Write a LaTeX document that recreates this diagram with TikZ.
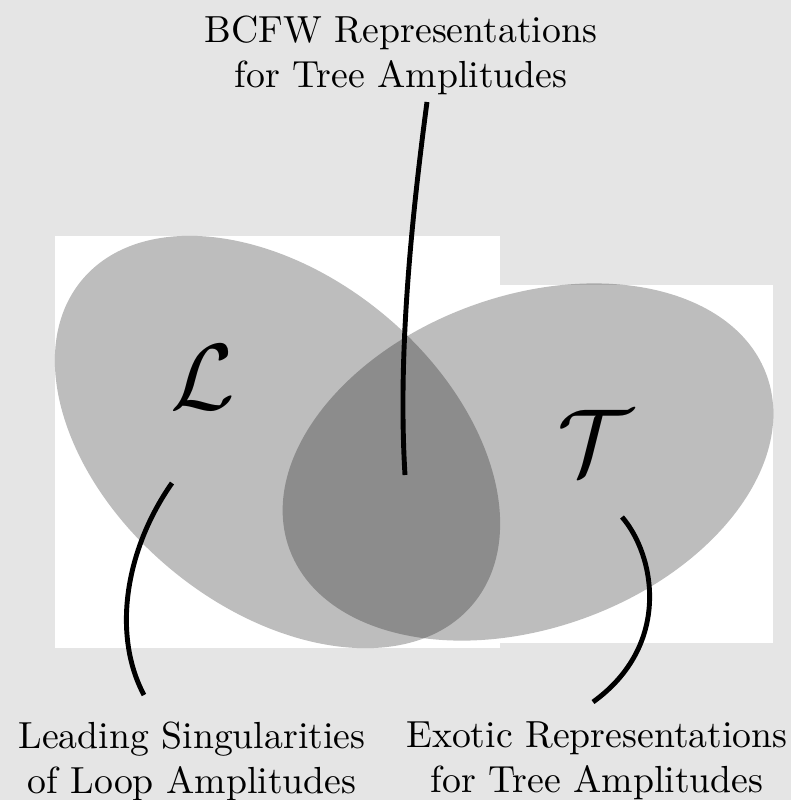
\documentclass[tikz,border=0pt]{standalone}
\usepackage{amsmath,amssymb}
\usepackage{xcolor}
\usepackage{tikz}
\usetikzlibrary{calc}
\definecolor{backgray}{HTML}{E5E5E5}

\begin{document}
\begin{tikzpicture}[x=0.265pt,y=-0.265pt,
    region/.style={fill=black,fill opacity=0.26},
    leader/.style={line width=1.3pt},
    caption/.style={align=center,font=\normalsize},
    letter/.style={font=\Huge}]
    \fill[backgray] (0,0) rectangle (791,800);
    \useasboundingbox (0,0) rectangle (791,800);
    \fill[white] (55,236) rectangle (500,648);
    \fill[white] (500,285) rectangle (773,643);

    % the two sets
    \fill[region,shift={(277.5,442)},rotate=-39.5] (0,0)
      ellipse [x radius=67.3pt,y radius=44pt];
    \fill[region,shift={(528,462)},rotate=20] (0,0)
      ellipse [x radius=67.3pt,y radius=44pt];
    \node[letter] (lset) at (203,377) {$\mathcal{L}$};
    \node[letter] (tset) at (595,442) {$\mathcal{T}$};

    \node[caption] (bcfw) at (401,55) {BCFW Representations\\for Tree Amplitudes};
    \node[caption] (loop) at (192,761) {Leading Singularities\\of Loop Amplitudes};
    \node[caption] (exotic) at (597,761) {Exotic Representations\\for Tree Amplitudes};

    \coordinate (bcfw-top) at (427,102);
    \coordinate (bcfw-end) at (405,475);
    \coordinate (loop-top) at (172,483);
    \coordinate (loop-end) at (144,695);
    \coordinate (exotic-top) at (622,517);
    \coordinate (exotic-end) at (593,702);
    \draw[leader] (bcfw-top) .. controls (410,230) and (398,360) .. (bcfw-end);
    \draw[leader] (loop-top) .. controls (125,550) and (112,635) .. (loop-end);
    \draw[leader] (exotic-top) .. controls (655,555) and (672,645) .. (exotic-end);
  \end{tikzpicture}
\end{document}
